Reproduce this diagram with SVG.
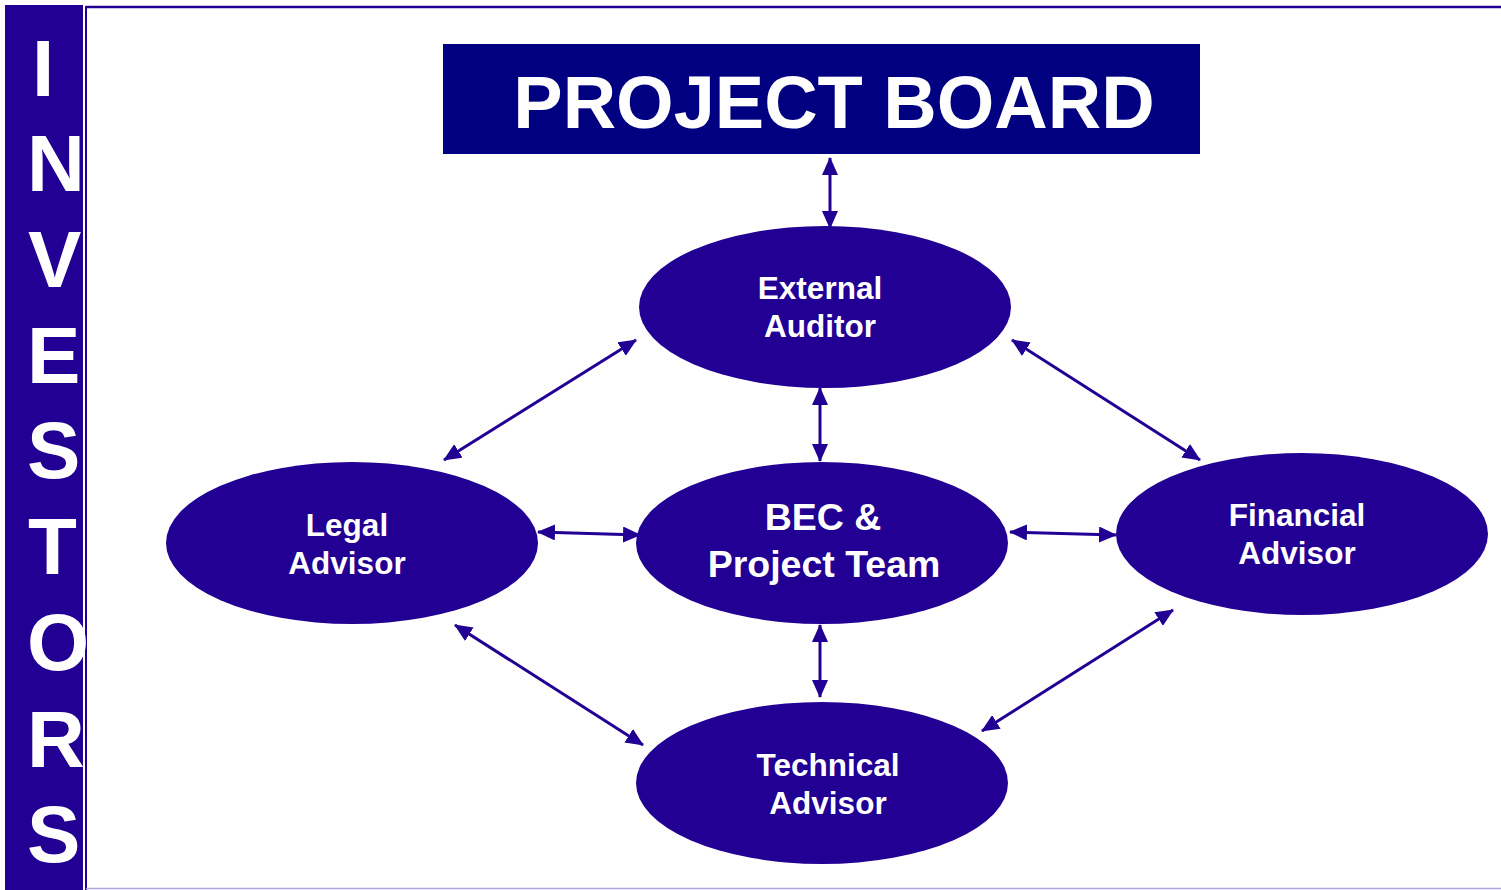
<svg xmlns="http://www.w3.org/2000/svg" width="1501" height="890" viewBox="0 0 1501 890">
<style>
.node{fill:#220094}
.lbl{font-family:"Liberation Sans",Arial,sans-serif;font-weight:bold;fill:#fff;text-anchor:middle}
.conn line{stroke:#220094;stroke-width:3;marker-start:url(#ah);marker-end:url(#ah)}
.inv{font-family:"Liberation Sans",Arial,sans-serif;font-weight:bold;fill:#fff;font-size:80px}
</style>
<defs>
<marker id="ah" markerUnits="userSpaceOnUse" markerWidth="18" markerHeight="16" viewBox="0 0 18 16" refX="17" refY="8" orient="auto-start-reverse">
<path d="M0,0 L18,8 L0,16 Z" fill="#220094"/>
</marker>
</defs>
<rect width="1501" height="890" fill="#fff"/>
<g id="frame">
<line x1="86" y1="7" x2="1501" y2="7" stroke="#220094" stroke-width="2.5"/>
<line x1="86" y1="6" x2="86" y2="890" stroke="#220094" stroke-width="2"/>
<line x1="86" y1="888.5" x2="1501" y2="888.5" stroke="#b0a8e0" stroke-width="1.5"/>
</g>
<g id="investors">
<rect x="5" y="5" width="78" height="885" fill="#220094"/>
<text class="inv" x="32" y="96">I</text>
<text class="inv" x="27" y="191">N</text>
<text class="inv" x="28" y="287">V</text>
<text class="inv" x="27" y="383">E</text>
<text class="inv" x="27" y="478">S</text>
<text class="inv" x="28" y="574">T</text>
<text class="inv" x="27" y="670">O</text>
<text class="inv" x="27" y="767">R</text>
<text class="inv" x="27" y="862">S</text>
</g>
<g id="project-board">
<rect x="443" y="44" width="757" height="110" fill="#000080"/>
<text class="lbl" x="834" y="128" font-size="74">PROJECT BOARD</text>
</g>
<g class="conn" id="connectors">
<line x1="830" y1="158" x2="830" y2="228"/>
<line x1="636" y1="340" x2="444" y2="460"/>
<line x1="820" y1="388" x2="820" y2="461"/>
<line x1="1012" y1="340" x2="1200" y2="460"/>
<line x1="538" y1="532" x2="640" y2="535"/>
<line x1="1010" y1="532" x2="1116" y2="535"/>
<line x1="455" y1="625" x2="643" y2="745"/>
<line x1="820" y1="625" x2="820" y2="697"/>
<line x1="1173" y1="610" x2="982" y2="731"/>
</g>
<g id="external-auditor">
<ellipse class="node" cx="825" cy="307" rx="186" ry="81"/>
<text class="lbl" font-size="31.5"><tspan x="820" y="299">External</tspan><tspan x="820" y="337">Auditor</tspan></text>
</g>
<g id="legal-advisor">
<ellipse class="node" cx="352" cy="543" rx="186" ry="81"/>
<text class="lbl" font-size="31.5"><tspan x="347" y="536">Legal</tspan><tspan x="347" y="574">Advisor</tspan></text>
</g>
<g id="bec-project-team">
<ellipse class="node" cx="822" cy="543" rx="186" ry="81"/>
<text class="lbl" font-size="37.5"><tspan x="823" y="530">BEC &amp;</tspan><tspan x="824" y="577">Project Team</tspan></text>
</g>
<g id="financial-advisor">
<ellipse class="node" cx="1302" cy="534" rx="186" ry="81"/>
<text class="lbl" font-size="31.5"><tspan x="1297" y="526">Financial</tspan><tspan x="1297" y="564">Advisor</tspan></text>
</g>
<g id="technical-advisor">
<ellipse class="node" cx="822" cy="783" rx="186" ry="81"/>
<text class="lbl" font-size="31.5"><tspan x="828" y="776">Technical</tspan><tspan x="828" y="814">Advisor</tspan></text>
</g>
</svg>
